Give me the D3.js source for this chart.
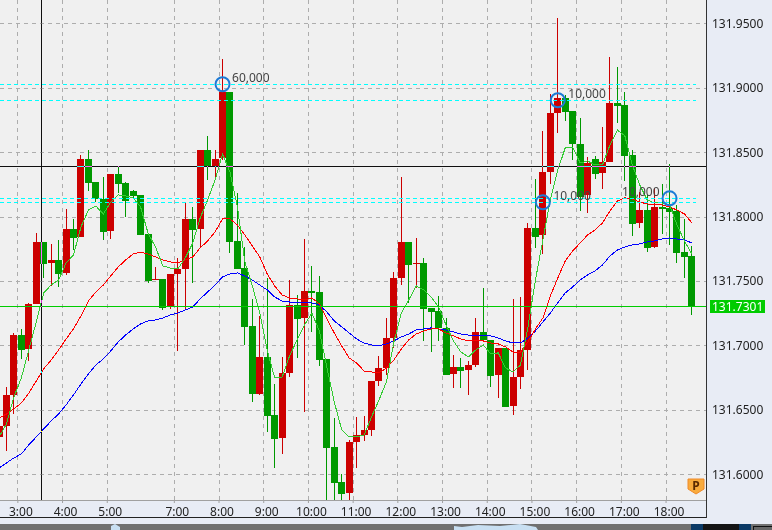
<!DOCTYPE html>
<html><head><meta charset="utf-8">
<script src="https://cdn.jsdelivr.net/npm/d3@7"></script>
<style>html,body{margin:0;padding:0;background:#e8ecf5;overflow:hidden}svg{display:block}text{font-family:"Noto Sans",sans-serif;font-size:12px}</style>
</head><body><div id="c"></div>
<script>
const open=[131.6290,131.6375,131.6616,131.7081,131.6973,131.7322,131.7803,131.7640,131.7663,131.7563,131.7904,131.7842,131.8447,131.8269,131.8137,131.7888,131.8331,131.8261,131.8199,131.8168,131.7865,131.7508,131.7516,131.7299,131.7555,131.7594,131.7982,131.7904,131.8517,131.8393,131.8455,131.8967,131.7811,131.7601,131.7151,131.6624,131.6911,131.6461,131.6282,131.6787,131.7314,131.7213,131.7423,131.7415,131.6895,131.6212,131.5941,131.5855,131.6251,131.6305,131.6344,131.6724,131.6825,131.7058,131.7524,131.7803,131.7632,131.7640,131.7291,131.7268,131.7136,131.6779,131.6833,131.6810,131.6849,131.7105,131.7043,131.6771,131.6981,131.6530,131.6755,131.6965,131.7912,131.7857,131.8346,131.8804,131.8921,131.8820,131.8564,131.8168,131.8447,131.8339,131.8424,131.8882,131.8866,131.8478,131.7951,131.8051,131.7764,131.8075,131.8067,131.8044,131.7725,131.7694];
const high=[131.6422,131.6678,131.7097,131.7128,131.7330,131.7873,131.7803,131.7788,131.7819,131.8059,131.7982,131.8478,131.8517,131.8269,131.8307,131.8331,131.8393,131.8269,131.8207,131.8168,131.7865,131.7609,131.7516,131.7555,131.7679,131.8106,131.8075,131.8517,131.8626,131.8517,131.9223,131.8967,131.8183,131.7764,131.7361,131.7229,131.7524,131.6701,131.6911,131.7508,131.7392,131.7826,131.7617,131.7539,131.6895,131.6437,131.6003,131.6267,131.6445,131.6453,131.6724,131.6918,131.7213,131.7570,131.8307,131.7803,131.7834,131.7679,131.7291,131.7384,131.7213,131.6926,131.6903,131.6880,131.7213,131.7446,131.7043,131.6981,131.6981,131.7361,131.7376,131.7951,131.8292,131.8664,131.8952,131.9541,131.8944,131.8820,131.8765,131.8463,131.8470,131.8695,131.9239,131.9161,131.8967,131.8517,131.8191,131.8168,131.8222,131.8253,131.8408,131.8090,131.7982,131.7772];
const low=[131.6228,131.6181,131.6468,131.6895,131.6880,131.7322,131.7524,131.7462,131.7454,131.7547,131.7741,131.7842,131.8199,131.8113,131.7819,131.7826,131.8183,131.7997,131.8145,131.7857,131.7485,131.7508,131.7275,131.7283,131.6957,131.7283,131.7485,131.7757,131.8284,131.8307,131.8439,131.7718,131.7594,131.7004,131.6561,131.6616,131.6329,131.6049,131.6158,131.6755,131.6903,131.6484,131.7105,131.6841,131.5785,131.5785,131.5785,131.5785,131.6049,131.6259,131.6298,131.6686,131.6771,131.6981,131.7469,131.7330,131.7446,131.7035,131.6949,131.7035,131.6771,131.6670,131.6670,131.6616,131.6833,131.7043,131.6678,131.6593,131.6523,131.6461,131.6662,131.6810,131.7757,131.7710,131.8253,131.8649,131.8742,131.8439,131.8044,131.8028,131.8292,131.8214,131.8424,131.8727,131.8276,131.7850,131.7912,131.7725,131.7757,131.7865,131.7780,131.7640,131.7524,131.7237];
const close=[131.6375,131.6616,131.7081,131.6965,131.7322,131.7803,131.7632,131.7663,131.7555,131.7904,131.7834,131.8447,131.8261,131.8137,131.7881,131.8331,131.8253,131.8121,131.8160,131.7857,131.7500,131.7516,131.7291,131.7555,131.7594,131.7982,131.7896,131.8517,131.8393,131.8447,131.8967,131.7803,131.7594,131.7144,131.6624,131.6911,131.6453,131.6274,131.6787,131.7314,131.7206,131.7423,131.7407,131.6887,131.6205,131.5933,131.5848,131.6251,131.6305,131.6344,131.6724,131.6825,131.7058,131.7524,131.7803,131.7625,131.7640,131.7283,131.7260,131.7136,131.6771,131.6833,131.6802,131.6849,131.7105,131.7043,131.6763,131.6981,131.6523,131.6755,131.6965,131.7912,131.7842,131.8346,131.8804,131.8921,131.8812,131.8564,131.8152,131.8416,131.8331,131.8424,131.8882,131.8858,131.8470,131.7943,131.8051,131.7757,131.8075,131.8059,131.8036,131.7718,131.7687,131.7301];
const maFast=[131.6290,131.6391,131.6600,131.6748,131.6965,131.7182,131.7407,131.7469,131.7508,131.7640,131.7702,131.7919,131.8051,131.8082,131.8020,131.8113,131.8168,131.8160,131.8145,131.8075,131.7873,131.7764,131.7617,131.7601,131.7594,131.7679,131.7795,131.7989,131.8129,131.8284,131.8486,131.8346,131.8075,131.7648,131.7462,131.7252,131.6965,131.6748,131.6755,131.6918,131.7043,131.7159,131.7252,131.7112,131.6833,131.6561,131.6344,131.6290,131.6290,131.6305,131.6445,131.6577,131.6717,131.7027,131.7252,131.7353,131.7462,131.7431,131.7376,131.7299,131.7159,131.7035,131.6949,131.6911,131.6965,131.7004,131.6934,131.6942,131.6825,131.6794,131.6849,131.7144,131.7508,131.7819,131.8129,131.8362,131.8533,131.8540,131.8416,131.8432,131.8401,131.8401,131.8556,131.8672,131.8626,131.8401,131.8245,131.8129,131.8106,131.8106,131.8090,131.7935,131.7811,131.7710];
const maMid=[131.6437,131.6468,131.6507,131.6554,131.6631,131.6724,131.6818,131.6887,131.6965,131.7050,131.7128,131.7229,131.7345,131.7415,131.7469,131.7539,131.7609,131.7663,131.7710,131.7725,131.7710,131.7687,131.7663,131.7648,131.7640,131.7663,131.7687,131.7757,131.7811,131.7881,131.7982,131.7982,131.7935,131.7857,131.7772,131.7687,131.7555,131.7462,131.7392,131.7369,131.7361,131.7353,131.7369,131.7322,131.7206,131.7097,131.6996,131.6903,131.6864,131.6802,131.6794,131.6787,131.6825,131.6887,131.6973,131.7043,131.7089,131.7112,131.7128,131.7128,131.7097,131.7074,131.7050,131.7035,131.7035,131.7035,131.7019,131.7012,131.6988,131.6949,131.6949,131.7027,131.7128,131.7213,131.7384,131.7524,131.7656,131.7733,131.7795,131.7857,131.7896,131.7951,131.8044,131.8121,131.8145,131.8137,131.8113,131.8098,131.8090,131.8090,131.8075,131.8051,131.8020,131.7951];
const maSlow=[131.6049,131.6088,131.6127,131.6158,131.6228,131.6290,131.6352,131.6414,131.6468,131.6538,131.6616,131.6701,131.6779,131.6849,131.6895,131.6957,131.7027,131.7081,131.7128,131.7167,131.7190,131.7198,131.7213,131.7237,131.7252,131.7275,131.7299,131.7361,131.7415,131.7469,131.7531,131.7555,131.7563,131.7539,131.7508,131.7469,131.7431,131.7376,131.7345,131.7337,131.7330,131.7330,131.7330,131.7314,131.7260,131.7190,131.7144,131.7097,131.7050,131.7019,131.7004,131.6996,131.7012,131.7035,131.7066,131.7089,131.7120,131.7128,131.7136,131.7128,131.7120,131.7105,131.7089,131.7081,131.7074,131.7074,131.7074,131.7058,131.7035,131.7019,131.7019,131.7058,131.7112,131.7182,131.7252,131.7330,131.7407,131.7454,131.7508,131.7547,131.7578,131.7625,131.7694,131.7741,131.7764,131.7780,131.7788,131.7803,131.7811,131.7826,131.7834,131.7826,131.7819,131.7795];
const priceTicks=[131.60,131.65,131.70,131.75,131.80,131.85,131.90,131.95];
const timeBars=[3,9,15,24,30,36,42,48,54,60,66,72,78,84,90];
const timeLabels=["3:00","4:00","5:00","7:00","8:00","9:00","10:00","11:00","12:00","13:00","14:00","15:00","16:00","17:00","18:00"];
const levels=[131.9027,131.8903,131.8142,131.8111];
const lastPrice=131.7301, crossPrice=131.8390, crossBar=5.65;
const markBars=[30,75,73,90];
const markPrices=[131.9027,131.8903,131.8111,131.8142];
const markTexts=["60,000","10,000","10,000","10,000"];
const markOffsets=[[10,-2],[11,-2],[11,-2],[-47,-2]];

const W=772,H=530,PR=706,PB=500;
const x=d3.scaleLinear().domain([0,93]).range([-1.5,691.4]);
const y=d3.scaleLinear().domain([131.6,131.95]).range([474.3,23.3]);
const svg=d3.select("#c").append("svg").attr("width",W).attr("height",H);
svg.append("rect").attr("width",W).attr("height",H).attr("fill","#e8ecf5");
svg.append("rect").attr("width",PR).attr("height",PB).attr("fill","#f0f0f0");
svg.append("clipPath").attr("id","pc").append("rect").attr("width",PR).attr("height",PB);
const crisp=s=>s.attr("shape-rendering","crispEdges");
const px=v=>Math.round(v)+0.5;
const gridG=svg.append("g").attr("clip-path","url(#pc)").call(crisp);
gridG.selectAll("line.h").data(priceTicks).join("line").attr("x1",0).attr("x2",PR)
 .attr("y1",d=>px(y(d))).attr("y2",d=>px(y(d))).attr("stroke","#adadad").attr("stroke-dasharray","4,4");
gridG.selectAll("line.v").data(timeBars).join("line").attr("y1",0).attr("y2",PB)
 .attr("x1",d=>px(x(d)-3.5)).attr("x2",d=>px(x(d)-3.5)).attr("stroke","#adadad").attr("stroke-dasharray","4,4");

const plot=svg.append("g").attr("clip-path","url(#pc)");
const bars=d3.range(open.length);
const col=i=>close[i]>=open[i]?"#cc0000":"#009900";
plot.append("g").call(crisp).selectAll("line").data(bars).join("line")
 .attr("x1",i=>Math.round(x(i))+0.5).attr("x2",i=>Math.round(x(i))+0.5)
 .attr("y1",i=>y(high[i])).attr("y2",i=>y(low[i])).attr("stroke",col);
plot.append("g").call(crisp).selectAll("rect").data(bars).join("rect")
 .attr("x",i=>Math.round(x(i))-3).attr("width",7)
 .attr("y",i=>Math.round(y(Math.max(open[i],close[i]))))
 .attr("height",i=>Math.max(1,Math.round(y(Math.min(open[i],close[i])))-Math.round(y(Math.max(open[i],close[i])))))
 .attr("fill",col);
const line=a=>d3.line().x((d,i)=>x(i)+0.5).y(d=>y(d))(a);
[[maSlow,"#0000ff"],[maMid,"#ff0000"],[maFast,"#33cc33"]].forEach(([a,c])=>{
 plot.append("path").attr("d",line(a)).attr("fill","none").attr("stroke",c).attr("stroke-width",1).attr("shape-rendering","crispEdges");
});
plot.append("g").call(crisp).selectAll("line").data(levels).join("line").attr("x1",0).attr("x2",696)
 .attr("y1",d=>px(y(d))).attr("y2",d=>px(y(d))).attr("stroke","#00ffff").attr("stroke-dasharray","4,3");
const lastY=Math.floor(y(lastPrice))+0.5;
svg.append("line").call(crisp).attr("x1",0).attr("x2",PR).attr("y1",lastY).attr("y2",lastY).attr("stroke","#00cc00");
// crosshair inverts what lies beneath it
const cross=svg.append("g").call(crisp).style("mix-blend-mode","difference");
cross.append("line").attr("x1",0).attr("x2",PR).attr("y1",px(y(crossPrice))).attr("y2",px(y(crossPrice))).attr("stroke","#fff");
cross.append("line").attr("y1",0).attr("y2",PB).attr("x1",px(x(crossBar))).attr("x2",px(x(crossBar))).attr("stroke","#fff");
svg.append("g").selectAll("circle").data(markBars).join("circle").attr("cx",d=>x(d)+0.5).attr("cy",(d,i)=>y(markPrices[i])).attr("r",7)
 .attr("fill","none").attr("stroke","#1c7ad6").attr("stroke-width",2);
svg.append("g").selectAll("text").data(markTexts).join("text").text(d=>d)
 .attr("x",(d,i)=>x(markBars[i])+markOffsets[i][0]).attr("y",(d,i)=>{
   return y(markPrices[i])+markOffsets[i][1];})
 .attr("fill","#444");

// axes
const xAxis=d3.axisBottom(d3.scaleLinear().domain([0,93]).range([-5,687.9])).tickValues(timeBars).tickSize(3)
 .tickFormat(d=>timeLabels[timeBars.indexOf(d)]);
const gx=svg.append("g").attr("transform",`translate(0,${PB})`).call(xAxis);
gx.select(".domain").remove();
gx.selectAll("line").attr("stroke","#a0a0a0");
gx.selectAll("text").attr("y",16).attr("dy",0).attr("dx",3).attr("fill","#222").style("font-size","12px");
gx.append("line").attr("x1",0).attr("x2",PR).attr("y1",0.5).attr("y2",0.5).attr("stroke","#a0a0a0");
const gy=svg.append("g").attr("transform",`translate(${PR},0)`).call(d3.axisRight(y).tickValues(priceTicks).tickSize(0).tickPadding(6).tickFormat(d3.format(".4f")));
gy.select(".domain").remove();
gy.selectAll("text").attr("fill","#222").style("font-size","12px");
svg.append("line").call(crisp).attr("x1",PR+0.5).attr("x2",PR+0.5).attr("y1",0).attr("y2",518).attr("stroke","#333");
svg.append("line").call(crisp).attr("x1",0).attr("x2",PR).attr("y1",517.5).attr("y2",517.5).attr("stroke","#222");
svg.append("rect").attr("x",710).attr("width",55).attr("y",300).attr("height",13).attr("fill","#00cc00");
svg.append("text").attr("x",712).attr("y",311).attr("fill","#fff").text(d3.format(".4f")(lastPrice));

// P badge
const pb=svg.append("g").attr("transform","translate(696,486)");
pb.append("path").attr("d","M-8,-7H8V3L0,8L-8,3Z").attr("fill","#f9ab3c").attr("stroke","#f08a28");
pb.append("text").attr("text-anchor","middle").attr("y",4).attr("fill","#5a2a00").style("font-weight","bold").style("font-size","12px").text("P");

// bottom window strip
svg.append("rect").attr("y",524).attr("width",W).attr("height",6).attr("fill","#707070");
svg.append("path").attr("d","M454,530V526L462,527L478,525L500,526L520,524L536,527L538,530Z").attr("fill","#c8dff2");
svg.append("path").attr("d","M111,530V526L115,524L120,527V530Z").attr("fill","#c8dff2");
svg.append("rect").attr("x",691).attr("y",524).attr("width",60).attr("height",6).attr("fill","#151515");
svg.append("rect").attr("x",691).attr("y",524).attr("width",12).attr("height",6).attr("fill","#0b3a66");
svg.append("rect").attr("x",739).attr("y",524).attr("width",12).attr("height",6).attr("fill","#0b3a66");
svg.append("rect").attr("x",753.5).attr("y",526.5).attr("width",20).attr("height",6).attr("fill","#666").attr("stroke","#111");
</script></body></html>
